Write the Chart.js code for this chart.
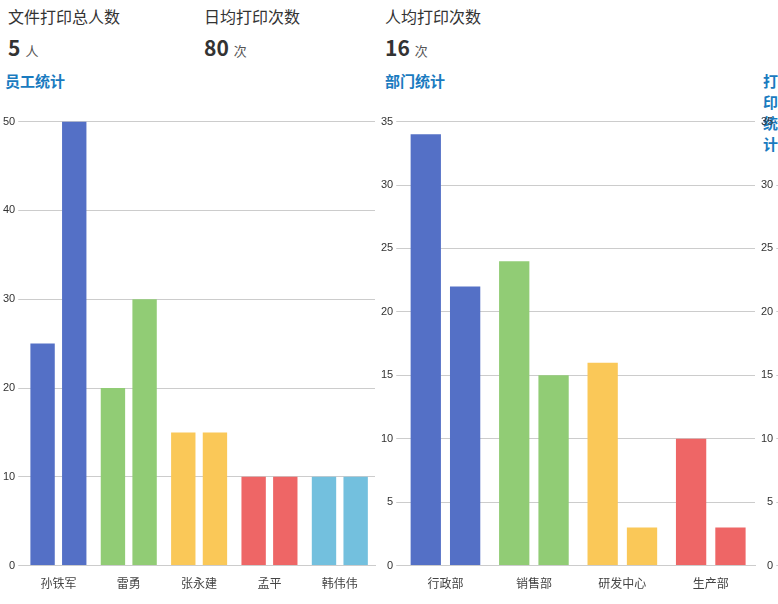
<!DOCTYPE html><html><head><meta charset="utf-8">
<script src="https://cdn.jsdelivr.net/npm/chart.js@4"></script>
<style>
body{margin:0;width:778px;height:604px;overflow:hidden;background:#fff;font-family:"Noto Sans CJK SC",sans-serif;position:relative}
.t{position:absolute;font-size:16px;color:#333;top:4px}
.n{position:absolute;top:32px;font-size:21px;font-weight:bold;color:#333}
.n span{font-size:13px;font-weight:normal;margin-left:5px;color:#555}
.h{position:absolute;top:70px;font-size:15px;font-weight:bold;color:#1a7bbf}
.c{position:absolute;top:112px;height:488px}
</style></head><body>
<div class="t" style="left:8px">文件打印总人数</div>
<div class="t" style="left:204px">日均打印次数</div>
<div class="t" style="left:385px">人均打印次数</div>
<div class="n" style="left:8px">5<span>人</span></div>
<div class="n" style="left:204px">80<span>次</span></div>
<div class="n" style="left:385px">16<span>次</span></div>
<div class="h" style="left:5px">员工统计</div>
<div class="h" style="left:385px">部门统计</div>
<div class="h" style="left:763px">打印统计</div>
<div class="c" style="left:0;width:378px"><canvas id="c1"></canvas></div>
<div class="c" style="left:378px;width:380px"><canvas id="c2"></canvas></div>
<div class="c" style="left:758px;width:380px"><canvas id="c3"></canvas></div>
<script>
const colors=['#5470c6','#91cc75','#fac858','#ee6666','#73c0de'];
const empNames=['孙铁军','雷勇','张永建','孟平','韩伟伟'];
const empA=[25,20,15,10,10];
const empB=[50,30,15,10,10];
const deptNames=['行政部','销售部','研发中心','生产部'];
const deptA=[34,24,16,10];
const deptB=[22,15,3,3];
function mk(id,labels,a,b,max,step,cp){
 const bc=labels.map((_,i)=>colors[i]);
 new Chart(document.getElementById(id),{type:'bar',data:{labels,datasets:[
  {data:a,backgroundColor:bc,categoryPercentage:cp,barPercentage:0.77},
  {data:b,backgroundColor:bc,categoryPercentage:cp,barPercentage:0.77}]},
 options:{responsive:true,maintainAspectRatio:false,animation:false,
  layout:{padding:{top:8,right:3,bottom:6}},
  plugins:{legend:{display:false},tooltip:{enabled:false}},
  scales:{x:{grid:{display:false,drawTicks:true},border:{color:'#ccc'},ticks:{color:'#444',font:{size:12,family:'Noto Sans CJK SC'}}},
   y:{min:0,max:max,ticks:{stepSize:step,color:'#333',font:{size:11}},grid:{color:'#ccc',tickLength:5},border:{display:false}}}}});
}
mk('c1',empNames,empA,empB,50,10,0.9);
mk('c2',deptNames,deptA,deptB,35,5,0.89);
mk('c3',[''],[0],[0],35,5,0.89);
</script></body></html>
